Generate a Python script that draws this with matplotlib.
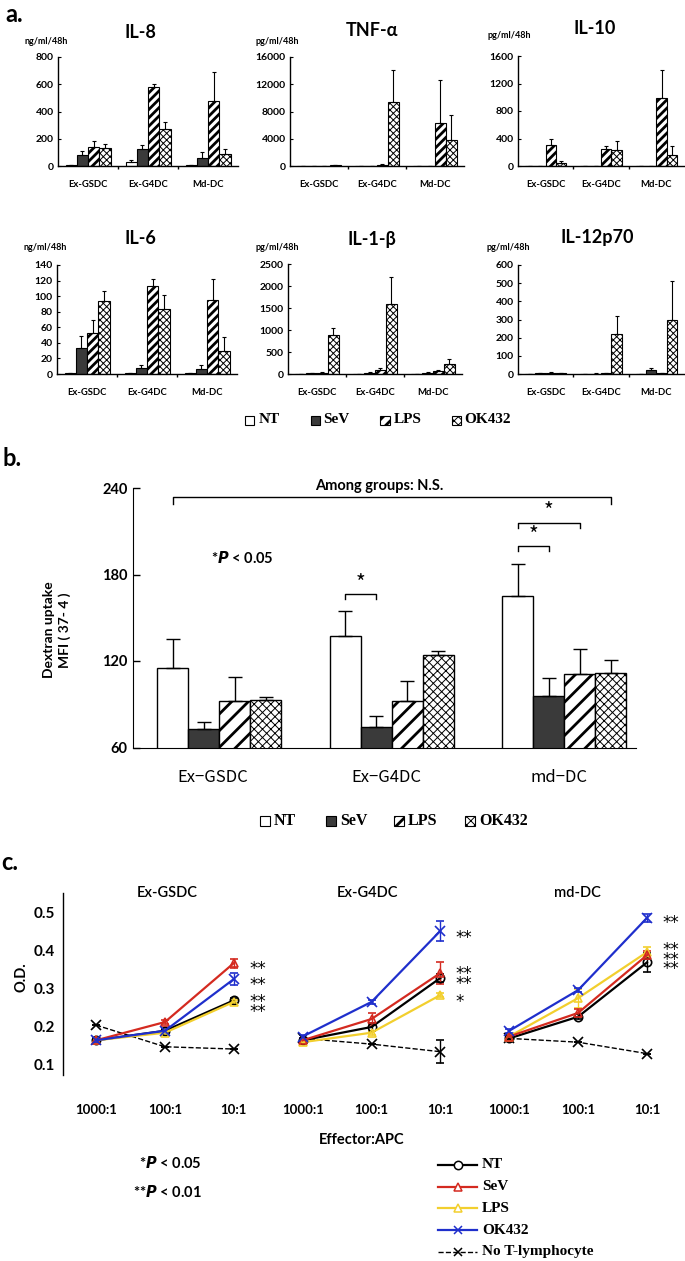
import numpy as np
import matplotlib
matplotlib.use("Agg")
import matplotlib.pyplot as plt
from matplotlib.patches import Rectangle
from matplotlib.lines import Line2D

# ---------------- data ----------------
stimuli = ["NT", "SeV", "LPS", "OK432"]
groups_a = ["Ex-GSDC", "Ex-G4DC", "Md-DC"]

# rows: NT, SeV, LPS, OK432 ; columns: Ex-GSDC, Ex-G4DC, Md-DC
il8_mean = [[4, 29, 5], [78, 122, 61], [139, 580, 474], [132, 274, 90]]
il8_err = [[2, 17, 4], [35, 30, 42], [42, 24, 215], [32, 49, 37]]
tnf_mean = [[10, 20, 10], [20, 40, 10], [30, 200, 6300], [100, 9400, 3770]]
tnf_err = [[0, 0, 0], [10, 10, 5], [20, 50, 6260], [50, 4650, 3770]]
il10_mean = [[3, 5, 3], [5, 5, 5], [311, 249, 992], [48, 235, 153]]
il10_err = [[0, 0, 0], [2, 2, 2], [82, 38, 407], [19, 134, 144]]
il6_mean = [[1, 1, 1], [33, 8, 6], [53, 113, 95], [94, 84, 30]]
il6_err = [[0, 0, 0], [16, 3, 6], [16, 9, 27], [13, 18, 17]]
il1b_mean = [[10, 10, 10], [20, 30, 30], [30, 100, 60], [883, 1600, 220]]
il1b_err = [[0, 0, 0], [10, 15, 10], [10, 30, 20], [166, 604, 110]]
il12_mean = [[1, 1, 1], [3, 2, 20], [8, 3, 5], [5, 222, 295]]
il12_err = [[0, 0, 0], [2, 1, 12], [3, 1, 2], [2, 100, 218]]

groups_b = ["Ex\u2212GSDC", "Ex\u2212G4DC", "md\u2212DC"]
dex_mean = [[115, 137, 165], [73, 74, 96], [92, 92, 111], [93, 124, 112]]
dex_err = [[20, 18, 22], [5, 8, 12], [17, 14, 17], [2, 3, 9]]

groups_c = ["Ex-GSDC", "Ex-G4DC", "md-DC"]
ratios = ["1000:1", "100:1", "10:1"]
od_nt = [[0.165, 0.190, 0.270], [0.165, 0.200, 0.329], [0.170, 0.227, 0.370]]
od_nt_err = [[0.005, 0.005, 0.006], [0.005, 0.01, 0.01], [0.005, 0.006, 0.025]]
od_sev = [[0.165, 0.213, 0.368], [0.165, 0.221, 0.342], [0.175, 0.237, 0.389]]
od_sev_err = [[0.005, 0.006, 0.012], [0.005, 0.015, 0.029], [0.005, 0.01, 0.01]]
od_lps = [[0.165, 0.185, 0.266], [0.160, 0.185, 0.284], [0.175, 0.276, 0.397]]
od_lps_err = [[0.005, 0.005, 0.006], [0.005, 0.005, 0.006], [0.005, 0.025, 0.013]]
od_ok = [[0.165, 0.190, 0.326], [0.175, 0.266, 0.453], [0.190, 0.297, 0.487]]
od_ok_err = [[0.005, 0.005, 0.015], [0.005, 0.006, 0.026], [0.005, 0.006, 0.01]]
od_not = [[0.205, 0.148, 0.142], [0.170, 0.155, 0.135], [0.170, 0.160, 0.130]]
od_not_err = [[0.0, 0.0, 0.0], [0.0, 0.0, 0.03], [0.0, 0.0, 0.0]]

# ---------------- figure ----------------
W, H = 685, 1261
fig = plt.figure(figsize=(W / 100, H / 100), dpi=100)
SANS = ["Lato", "DejaVu Sans"]
SERIF = ["Liberation Serif", "DejaVu Serif"]
GOTH = ["Noto Sans CJK JP", "DejaVu Sans"]
SEV_COLOR = "#3a3a3a"


def px_axes(x0, y0, x1, y1):
    return fig.add_axes([x0 / W, 1 - y1 / H, (x1 - x0) / W, (y1 - y0) / H])


def ftext(x, y, s, **kw):
    kw.setdefault("ha", "center")
    kw.setdefault("va", "center")
    return fig.text(x / W, 1 - y / H, s, **kw)


def style_bar(bars, k, hatch_a, hatch_b, lw):
    for b in bars:
        b.set_edgecolor("black")
        b.set_linewidth(lw)
        if k == 0:
            b.set_facecolor("white")
        elif k == 1:
            b.set_facecolor(SEV_COLOR)
        elif k == 2:
            b.set_facecolor("white")
            b.set_hatch(hatch_a)
            if hasattr(b, "set_hatch_linewidth"):
                b.set_hatch_linewidth(2.0)
        else:
            b.set_facecolor("white")
            b.set_hatch(hatch_b)
            if hasattr(b, "set_hatch_linewidth"):
                b.set_hatch_linewidth(0.7)


def bar_panel(rect, means, errs, ymax, ystep, title, unit, tpos, upos):
    ax = px_axes(*rect)
    w = 0.1875
    x = np.arange(len(groups_a))
    for k in range(4):
        m = np.array(means[k], float)
        e = np.array(errs[k], float)
        bars = ax.bar(x + (k - 1.5) * w, m, w, yerr=[np.zeros_like(e), e],
                      error_kw=dict(ecolor="black", elinewidth=0.8, capsize=1.5, capthick=0.8),
                      zorder=2)
        style_bar(bars, k, "////", "xxxxx", 0.8)
    ax.set_xlim(-0.5, 2.5)
    ax.set_ylim(0, ymax)
    ax.set_yticks(np.arange(0, ymax + 1, ystep))
    ax.set_xticks(x)
    ax.set_xticklabels(groups_a, fontfamily=SANS, fontweight="bold", fontsize=6.8)
    ax.set_xticks([0.5, 1.5], minor=True)
    ax.tick_params(axis="x", which="major", length=0, pad=10)
    ax.tick_params(axis="x", which="minor", length=2, width=1, direction="out")
    ax.tick_params(axis="y", length=2, width=0.8, direction="in", labelsize=7.5, pad=3)
    for lab in ax.get_yticklabels():
        lab.set_fontfamily(SANS)
        lab.set_fontweight("bold")
    for s in ["top", "right"]:
        ax.spines[s].set_visible(False)
    for s in ["left", "bottom"]:
        ax.spines[s].set_linewidth(1.0)
    ftext(*tpos, title, fontfamily=SANS, fontweight="bold", fontsize=13)
    ftext(*upos, unit, fontfamily=SANS, fontweight="bold", fontsize=6.5)
    return ax


ftext(14, 14, "a.", fontfamily=SANS, fontweight="bold", fontsize=17)
bar_panel((58, 57, 238, 166), il8_mean, il8_err, 800, 200, "IL-8", "ng/ml/48h", (140, 32), (46, 41))
bar_panel((290, 57, 464, 166), tnf_mean, tnf_err, 16000, 4000, "TNF-\u03b1", "pg/ml/48h", (372, 31), (277, 41))
bar_panel((518, 56, 684, 166), il10_mean, il10_err, 1600, 400, "IL-10", "pg/ml/48h", (595, 29), (509, 36))
bar_panel((57, 265, 237, 374), il6_mean, il6_err, 140, 20, "IL-6", "ng/ml/48h", (140, 238), (45, 248))
bar_panel((288, 264, 462, 374), il1b_mean, il1b_err, 2500, 500, "IL-1-\u03b2", "pg/ml/48h", (372, 240), (277, 248))
bar_panel((518, 265, 684, 374), il12_mean, il12_err, 600, 100, "IL-12p70", "pg/ml/48h", (597, 237), (508, 248))


def legend_boxes(y, xs, size, fs):
    for k, (xb, name) in enumerate(zip(xs, stimuli)):
        r = Rectangle(((xb - size / 2) / W, 1 - (y + size / 2) / H), size / W, size / H,
                      transform=fig.transFigure, edgecolor="black", linewidth=0.8)
        style_bar([r], k, "///", "xxxx", 0.8)
        fig.add_artist(r)
        ftext(xb + size / 2 + 4, y, name, ha="left", fontfamily=SERIF, fontweight="bold", fontsize=fs)


legend_boxes(420, [250, 315, 385, 456], 9, 11)

# ---------------- panel b ----------------
ftext(12, 459, "b.", fontfamily=SANS, fontweight="bold", fontsize=17)
axb = px_axes(133, 488, 636, 747.5)
wb = 0.18
xb = np.arange(3)
for k in range(4):
    e = np.array(dex_err[k], float)
    bars = axb.bar(xb + (k - 1.5) * wb, dex_mean[k], wb, yerr=[np.zeros_like(e), e],
                   error_kw=dict(ecolor="black", elinewidth=1.0, capsize=5, capthick=1.0),
                   zorder=2)
    style_bar(bars, k, "//", "xxxx", 1.0)
axb.set_xlim(-0.5, 2.416)
axb.set_ylim(60, 240)
axb.set_yticks([60, 120, 180, 240])
axb.set_xticks([])
axb.tick_params(axis="y", length=5, width=1, direction="in", labelsize=10.5, pad=4)
for lab in axb.get_yticklabels():
    lab.set_fontfamily(SANS)
    lab.set_fontweight("bold")
for s in ["top", "right"]:
    axb.spines[s].set_visible(False)
for gx, name in zip([213, 386, 559], groups_b):
    ftext(gx, 777, name, fontfamily=GOTH, fontsize=12)
ftext(57, 630, "Dextran uptake\nMFI ( 37- 4 )", rotation=90, fontfamily=SANS,
      fontweight="bold", fontsize=10, linespacing=1.3)


def bracket(ax, x0, x1, y, drop, star=None, ys=None):
    ax.plot([x0, x0, x1, x1], [y - drop, y, y, y - drop], color="black", lw=1.0, clip_on=False)
    if star:
        ax.text((x0 + x1) / 2, ys, star, ha="center", va="center", fontsize=15,
                fontfamily=GOTH, clip_on=False)


bracket(axb, -1.5 * wb, 2 + 1.5 * wb, 233.7, 4.5)
bracket(axb, 1 - 1.5 * wb, 1 - 0.5 * wb, 166.7, 4, "*", 173.5)
bracket(axb, 2 - 1.5 * wb, 2 - 0.5 * wb, 200, 4, "*", 206.5)
bracket(axb, 2 - 1.5 * wb, 2 + 0.5 * wb, 216, 4, "*", 223.5)
ftext(379, 486, "Among groups: N.S.", fontfamily=SANS, fontweight="bold", fontsize=10.5)
ftext(242, 558, r"*$\bfit{P}$ < 0.05", fontfamily=SANS, fontweight="bold", fontsize=10.5)

legend_boxes(821, [265, 331, 399, 470], 10, 11.5)

# ---------------- panel c ----------------
ftext(10, 862, "c.", fontfamily=SANS, fontweight="bold", fontsize=17)
axc = px_axes(63, 893, 680, 1075)
y_lo = 0.1 - (1075 - 1065) / 380.0
y_hi = 0.1 + (1065 - 893) / 380.0
axc.set_ylim(y_lo, y_hi)
axc.set_xlim(-0.48, 8.48)
series = [
    (od_nt, od_nt_err, "black", "o", "-", "NT"),
    (od_sev, od_sev_err, "#d42a20", "^", "-", "SeV"),
    (od_lps, od_lps_err, "#f2cf2e", "^", "-", "LPS"),
    (od_ok, od_ok_err, "#1f2fcc", "x", "-", "OK432"),
    (od_not, od_not_err, "black", "x", "--", "No T-lymphocyte"),
]
for g in range(3):
    xs = np.arange(3) + 3 * g
    for vals, errs, col, mk, ls, name in [series[4], series[0], series[2], series[1], series[3]]:
        axc.errorbar(xs, vals[g], yerr=errs[g], color=col, marker=mk, ms=6 if mk != "x" else 7,
                     mfc="none", mec=col, mew=1.2, lw=1.0 if ls == "--" else 1.6, ls=ls,
                     capsize=3, elinewidth=1.0, capthick=1.0, zorder=3, clip_on=False)
axc.set_yticks([0.1, 0.2, 0.3, 0.4, 0.5])
axc.set_yticklabels(["0.1", "0.2", "0.3", "0.4", "0.5"])
axc.set_xticks(np.arange(9))
axc.set_xticklabels(ratios * 3)
axc.tick_params(axis="x", length=0, labelsize=9.5, pad=21)
axc.tick_params(axis="y", length=0, labelsize=11, pad=6)
for lab in axc.get_yticklabels() + axc.get_xticklabels():
    lab.set_fontfamily(SANS)
    lab.set_fontweight("bold")
for s in ["top", "right", "bottom"]:
    axc.spines[s].set_visible(False)
axc.spines["left"].set_linewidth(1.0)
for gx, name in zip([167, 367, 577], groups_c):
    ftext(gx, 893, name, fontfamily=SANS, fontsize=10.5, fontweight="semibold")
ftext(22, 977, "O.D.", rotation=90, fontfamily=SANS, fontweight="bold", fontsize=10.5)
ftext(362, 1140, "Effector:APC", fontfamily=SANS, fontweight="bold", fontsize=10.5)

# significance marks beside the 10:1 points (stacked marks drawn as one text)
stars_c = [(2, 0.368, "**"), (2, 0.326, "**"), (2, 0.268, "**\n**"),
           (5, 0.450, "**"), (5, 0.341, "**\n**"), (5, 0.280, "*"),
           (8, 0.487, "**"), (8, 0.392, "**\n**\n**")]
for sx, sy, st in stars_c:
    axc.annotate(st, (sx, sy), xytext=(11, -4), textcoords="offset points", ha="left",
                 va="center", fontsize=12, fontfamily=["DejaVu Sans"], linespacing=0.4,
                 annotation_clip=False)

ftext(202, 1163, r"*$\bfit{P}$ < 0.05", ha="right", fontfamily=SANS, fontweight="bold", fontsize=10.5)
ftext(202, 1192, r"**$\bfit{P}$ < 0.01", ha="right", fontfamily=SANS, fontweight="bold", fontsize=10.5)

leg_y = [1165, 1187, 1208, 1230, 1252]
for (vals, errs, col, mk, ls, name), y in zip(series, leg_y):
    yy = 1 - y / H
    fig.add_artist(Line2D([438 / W, 477 / W], [yy, yy], transform=fig.transFigure, color=col,
                          lw=1.0 if ls == "--" else 1.6, ls=ls))
    fig.add_artist(Line2D([457.5 / W], [yy], transform=fig.transFigure, color=col, marker=mk,
                          ms=6, mfc="white" if mk != "x" else col, mec=col, mew=1.1, ls="none"))
    ftext(482, y, name, ha="left", fontfamily=SERIF, fontweight="bold", fontsize=11)

fig.savefig("out.png", dpi=100)
